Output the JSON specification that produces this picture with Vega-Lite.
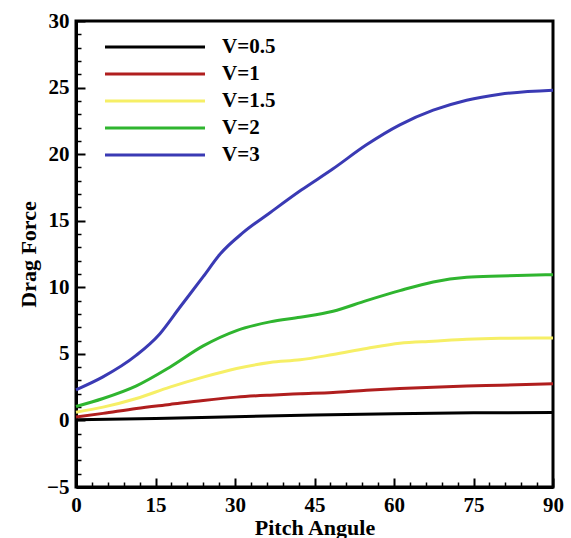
{
  "$schema": "https://vega.github.io/schema/vega-lite/v6.json",
  "width": 477,
  "height": 466,
  "autosize": {"type": "none"},
  "padding": {"left": 76, "top": 21, "right": 18, "bottom": 51},
  "background": "white",
  "config": {"view": {"stroke": "black", "strokeWidth": 3}, "font": "Liberation Serif"},
  "data": {"values": [
    {"series": "V=0.5", "angle": 0, "force": 0.05},
    {"series": "V=0.5", "angle": 15, "force": 0.15},
    {"series": "V=0.5", "angle": 30, "force": 0.28},
    {"series": "V=0.5", "angle": 45, "force": 0.4},
    {"series": "V=0.5", "angle": 60, "force": 0.5},
    {"series": "V=0.5", "angle": 75, "force": 0.57},
    {"series": "V=0.5", "angle": 90, "force": 0.6},
    {"series": "V=1", "angle": 0, "force": 0.25},
    {"series": "V=1", "angle": 5.1, "force": 0.53},
    {"series": "V=1", "angle": 11.4, "force": 0.9},
    {"series": "V=1", "angle": 17.7, "force": 1.2},
    {"series": "V=1", "angle": 24, "force": 1.5},
    {"series": "V=1", "angle": 30.3, "force": 1.75},
    {"series": "V=1", "angle": 36.6, "force": 1.9},
    {"series": "V=1", "angle": 42.3, "force": 2.0},
    {"series": "V=1", "angle": 48.5, "force": 2.1},
    {"series": "V=1", "angle": 54.8, "force": 2.27},
    {"series": "V=1", "angle": 61.1, "force": 2.4},
    {"series": "V=1", "angle": 67.4, "force": 2.5},
    {"series": "V=1", "angle": 73.7, "force": 2.58},
    {"series": "V=1", "angle": 80, "force": 2.64},
    {"series": "V=1", "angle": 90, "force": 2.75},
    {"series": "V=1.5", "angle": 0, "force": 0.62},
    {"series": "V=1.5", "angle": 5.1, "force": 1.0},
    {"series": "V=1.5", "angle": 11.4, "force": 1.65},
    {"series": "V=1.5", "angle": 17.7, "force": 2.5},
    {"series": "V=1.5", "angle": 24, "force": 3.25},
    {"series": "V=1.5", "angle": 30.3, "force": 3.9},
    {"series": "V=1.5", "angle": 36.6, "force": 4.35},
    {"series": "V=1.5", "angle": 42.3, "force": 4.55},
    {"series": "V=1.5", "angle": 48.5, "force": 4.95},
    {"series": "V=1.5", "angle": 54.8, "force": 5.4},
    {"series": "V=1.5", "angle": 61.1, "force": 5.8},
    {"series": "V=1.5", "angle": 67.4, "force": 5.95},
    {"series": "V=1.5", "angle": 73.7, "force": 6.1},
    {"series": "V=1.5", "angle": 80, "force": 6.17},
    {"series": "V=1.5", "angle": 90, "force": 6.2},
    {"series": "V=2", "angle": 0, "force": 1.05},
    {"series": "V=2", "angle": 5.1, "force": 1.65},
    {"series": "V=2", "angle": 11.4, "force": 2.6},
    {"series": "V=2", "angle": 17.7, "force": 4.0},
    {"series": "V=2", "angle": 24, "force": 5.6},
    {"series": "V=2", "angle": 30.3, "force": 6.75},
    {"series": "V=2", "angle": 36.6, "force": 7.4},
    {"series": "V=2", "angle": 42.3, "force": 7.75},
    {"series": "V=2", "angle": 48.5, "force": 8.2},
    {"series": "V=2", "angle": 54.8, "force": 9.0},
    {"series": "V=2", "angle": 61.1, "force": 9.75},
    {"series": "V=2", "angle": 67.4, "force": 10.4},
    {"series": "V=2", "angle": 73.7, "force": 10.75},
    {"series": "V=2", "angle": 80, "force": 10.85},
    {"series": "V=2", "angle": 90, "force": 10.95},
    {"series": "V=3", "angle": 0, "force": 2.3},
    {"series": "V=3", "angle": 5, "force": 3.25},
    {"series": "V=3", "angle": 11.4, "force": 4.9},
    {"series": "V=3", "angle": 15.8, "force": 6.5},
    {"series": "V=3", "angle": 19.6, "force": 8.5},
    {"series": "V=3", "angle": 24, "force": 10.8},
    {"series": "V=3", "angle": 27.2, "force": 12.5},
    {"series": "V=3", "angle": 31.5, "force": 14.1},
    {"series": "V=3", "angle": 36.6, "force": 15.6},
    {"series": "V=3", "angle": 42.5, "force": 17.3},
    {"series": "V=3", "angle": 48.5, "force": 18.9},
    {"series": "V=3", "angle": 54.8, "force": 20.7},
    {"series": "V=3", "angle": 61.1, "force": 22.2},
    {"series": "V=3", "angle": 67.4, "force": 23.3},
    {"series": "V=3", "angle": 73.7, "force": 24.05},
    {"series": "V=3", "angle": 80, "force": 24.5},
    {"series": "V=3", "angle": 90, "force": 24.8}
  ]},
  "layer": [
    {
      "mark": {"type": "line", "interpolate": "monotone", "strokeWidth": 3},
      "encoding": {
        "x": {
          "field": "angle", "type": "quantitative",
          "scale": {"domain": [0, 90], "nice": false},
          "axis": {
            "orient": "bottom",
            "values": [0, 15, 30, 45, 60, 75, 90],
            "grid": false,
            "domain": true, "domainColor": "black", "domainWidth": 3,
            "ticks": true, "tickSize": -9, "tickWidth": 2, "tickColor": "black",
            "labelFont": "Liberation Serif", "labelFontWeight": "bold", "labelFontSize": 21, "labelColor": "black",
            "labelPadding": 16, "labelFlush": false, "labelOverlap": false,
            "title": "Pitch Angule",
            "titleFont": "Liberation Serif", "titleFontWeight": "bold", "titleFontSize": 22, "titleColor": "black",
            "titlePadding": 2
          }
        },
        "y": {
          "field": "force", "type": "quantitative",
          "scale": {"domain": [-5, 30], "nice": false},
          "axis": {
            "orient": "left",
            "values": [-5, 0, 5, 10, 15, 20, 25, 30],
            "grid": false,
            "domain": true, "domainColor": "black", "domainWidth": 3,
            "ticks": true, "tickSize": -9, "tickWidth": 2, "tickColor": "black",
            "labelFont": "Liberation Serif", "labelFontWeight": "bold", "labelFontSize": 21, "labelColor": "black",
            "labelPadding": 16, "labelFlush": false, "labelOverlap": false,
            "title": "Drag Force",
            "titleFont": "Liberation Serif", "titleFontWeight": "bold", "titleFontSize": 22, "titleColor": "black",
            "titlePadding": 6
          }
        },
        "color": {
          "field": "series", "type": "nominal",
          "scale": {
            "domain": ["V=0.5", "V=1", "V=1.5", "V=2", "V=3"],
            "range": ["#000000", "#b01e1e", "#f6ef66", "#2fb52f", "#3a3ab4"]
          },
          "legend": {
            "orient": "none", "legendX": 67.5, "legendY": 14.5,
            "title": null, "padding": 0,
            "symbolType": "M-5,0H5", "symbolSize": 400, "symbolStrokeWidth": 3,
            "labelOffset": 55.5, "rowPadding": 5,
            "labelFont": "Liberation Serif", "labelFontWeight": "bold", "labelFontSize": 21, "labelColor": "black"
          }
        }
      }
    },
    {
      "mark": {"type": "line", "opacity": 0},
      "encoding": {
        "x": {
          "field": "angle", "type": "quantitative",
          "axis": {
            "orient": "bottom",
            "values": [3, 6, 9, 12, 18, 21, 24, 27, 33, 36, 39, 42, 48, 51, 54, 57, 63, 66, 69, 72, 78, 81, 84, 87],
            "grid": false, "domain": false, "labels": false, "title": null,
            "ticks": true, "tickSize": -5, "tickWidth": 1.5, "tickColor": "black"
          }
        },
        "y": {
          "field": "force", "type": "quantitative",
          "axis": {
            "orient": "left",
            "values": [-4, -3, -2, -1, 1, 2, 3, 4, 6, 7, 8, 9, 11, 12, 13, 14, 16, 17, 18, 19, 21, 22, 23, 24, 26, 27, 28, 29],
            "grid": false, "domain": false, "labels": false, "title": null,
            "ticks": true, "tickSize": -5, "tickWidth": 1.5, "tickColor": "black"
          }
        },
        "detail": {"field": "series"}
      }
    }
  ],
  "resolve": {"axis": {"x": "independent", "y": "independent"}}
}
